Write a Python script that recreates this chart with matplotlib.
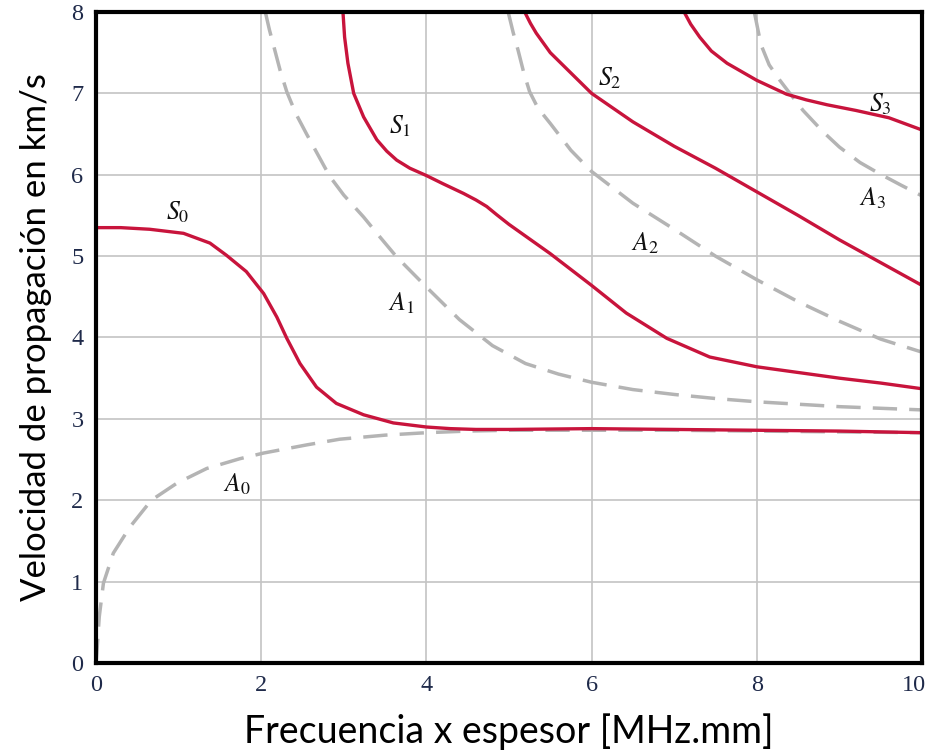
import numpy as np
import matplotlib
matplotlib.use('Agg')
import matplotlib.pyplot as plt
import matplotlib.transforms as mtransforms

# curves (freq x thickness [MHz.mm], velocity [km/s])
s0_x = [0, 0.3, 0.65, 1.06, 1.38, 1.58, 1.82, 2.03, 2.19, 2.31, 2.47, 2.67, 2.91, 3.24, 3.6, 4.0, 4.29, 4.6, 5, 6, 7, 8, 9, 10]
s0_y = [5.35, 5.35, 5.33, 5.28, 5.16, 5.01, 4.81, 4.54, 4.25, 3.99, 3.68, 3.39, 3.19, 3.05, 2.95, 2.9, 2.88, 2.87, 2.87, 2.88, 2.87, 2.86, 2.85, 2.83]

a0_x = [0, 0.01, 0.04, 0.09, 0.21, 0.41, 0.67, 0.98, 1.34, 1.74, 2.03, 2.55, 2.95, 3.5, 4, 4.5, 5, 6, 7, 8, 9, 10]
a0_y = [0, 0.12, 0.57, 0.98, 1.35, 1.67, 2.0, 2.21, 2.39, 2.51, 2.58, 2.68, 2.75, 2.8, 2.83, 2.85, 2.86, 2.86, 2.86, 2.85, 2.84, 2.83]

s1_x = [2.99, 3.01, 3.05, 3.12, 3.24, 3.4, 3.52, 3.64, 3.8, 4.0, 4.2, 4.45, 4.6, 4.73, 4.85, 5.0, 5.5, 6.0, 6.42, 6.91, 7.43, 8.0, 8.5, 9, 9.5, 10]
s1_y = [8.0, 7.69, 7.37, 7.0, 6.71, 6.43, 6.29, 6.18, 6.08, 5.99, 5.89, 5.77, 5.69, 5.61, 5.51, 5.39, 5.03, 4.64, 4.3, 3.99, 3.76, 3.64, 3.57, 3.5, 3.44, 3.37]

a1_x = [2.05, 2.1, 2.16, 2.23, 2.31, 2.42, 2.55, 2.83, 3.0, 3.24, 3.45, 3.64, 4.0, 4.4, 4.8, 5.2, 5.6, 6.0, 6.5, 7, 7.5, 8, 8.5, 9, 9.5, 10]
a1_y = [8.0, 7.78, 7.55, 7.28, 7.02, 6.75, 6.5, 5.98, 5.75, 5.48, 5.22, 4.99, 4.62, 4.22, 3.9, 3.68, 3.55, 3.45, 3.36, 3.3, 3.25, 3.21, 3.18, 3.15, 3.13, 3.11]

s2_x = [5.19, 5.26, 5.33, 5.5, 5.7, 6.0, 6.5, 7.0, 7.5, 8.0, 8.5, 9.0, 9.5, 10]
s2_y = [8.0, 7.86, 7.74, 7.5, 7.3, 7.0, 6.65, 6.35, 6.08, 5.79, 5.5, 5.2, 4.92, 4.64]

a2_x = [4.99, 5.05, 5.11, 5.18, 5.25, 5.35, 5.5, 5.75, 6.0, 6.5, 7.0, 7.5, 8.0, 8.5, 9.0, 9.5, 10]
a2_y = [8.0, 7.75, 7.53, 7.25, 7.02, 6.82, 6.63, 6.3, 6.04, 5.65, 5.33, 5.0, 4.71, 4.44, 4.2, 3.98, 3.82]

s3_x = [7.12, 7.2, 7.31, 7.45, 7.64, 8.0, 8.36, 8.6, 8.85, 9.2, 9.6, 10]
s3_y = [8.0, 7.85, 7.69, 7.52, 7.37, 7.16, 6.99, 6.92, 6.86, 6.79, 6.7, 6.55]

a3_x = [7.97, 8.05, 8.15, 8.28, 8.4, 8.56, 8.8, 9.0, 9.25, 9.49, 9.75, 10]
a3_y = [8.0, 7.6, 7.35, 7.16, 7.0, 6.79, 6.53, 6.34, 6.15, 6.01, 5.87, 5.74]

# mode labels
lbl_text = ['$S_0$', '$S_1$', '$S_2$', '$S_3$', '$A_0$', '$A_1$', '$A_2$', '$A_3$']
lbl_x = [0.99, 3.68, 6.22, 9.5, 1.70, 3.70, 6.65, 9.40]
lbl_y = [5.54, 6.59, 7.19, 6.87, 2.19, 4.42, 5.16, 5.71]

red = '#c8143c'
grey = '#b4b4b4'

plt.rcParams['mathtext.fontset'] = 'stix'

fig = plt.figure(figsize=(9.3, 7.54), dpi=100)
ax = fig.add_axes([0.1032, 0.1207, 0.8882, 0.8634])

for xs, ys in [(a0_x, a0_y), (a1_x, a1_y), (a2_x, a2_y), (a3_x, a3_y)]:
    ax.plot(xs, ys, color=grey, lw=2.5, dashes=(7, 3.5), zorder=3)
for xs, ys in [(s0_x, s0_y), (s1_x, s1_y), (s2_x, s2_y), (s3_x, s3_y)]:
    ax.plot(xs, ys, color=red, lw=2.4, zorder=4, solid_capstyle='butt', solid_joinstyle='round')

for t, x, y in zip(lbl_text, lbl_x, lbl_y):
    ax.text(x, y, t, fontsize=18.5, ha='center', va='center', color='#111111', zorder=5)

ax.set_xlim(0, 10)
ax.set_ylim(0, 8)
ax.set_xticks(np.arange(0, 11, 2))
ax.set_yticks(np.arange(0, 9, 1))
ax.grid(True, color='#c4c4c4', lw=1.2, zorder=1)
ax.tick_params(length=0, pad=9, labelsize=17.5, labelcolor='#1f2a4a')
for lab in ax.get_xticklabels() + ax.get_yticklabels():
    lab.set_family('Liberation Serif')
# last x label sits a bit left of its tick, as in the original
last = ax.get_xticklabels()[-1]
last.set_transform(last.get_transform() + mtransforms.ScaledTranslation(-8 / 100, 0, fig.dpi_scale_trans))
for sp in ax.spines.values():
    sp.set_linewidth(3)
    sp.set_color('black')
    sp.set_zorder(6)

ax.set_xlabel('Frecuencia x espesor [MHz.mm]', fontsize=27, family='Lato', labelpad=12)
ax.set_ylabel('Velocidad de propagación en km/s', fontsize=25, family='Lato', labelpad=14)

fig.savefig('out.png', dpi=100)
